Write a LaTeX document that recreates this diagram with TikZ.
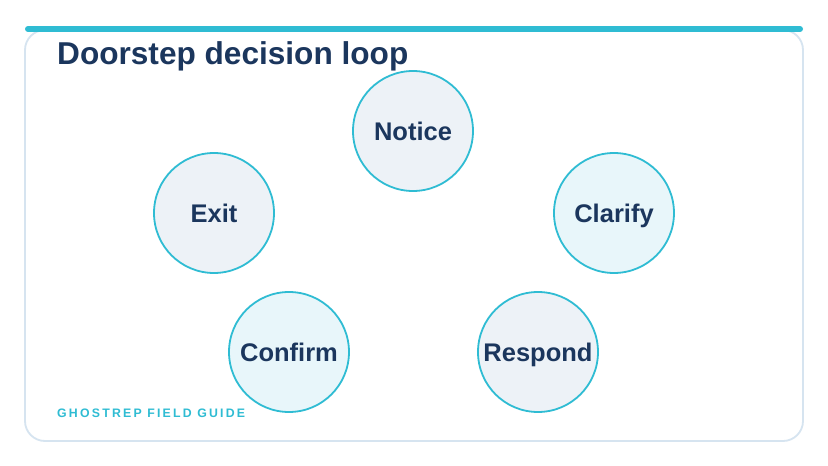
\documentclass[tikz,border=0pt]{standalone}
\usepackage{fontspec}
\setmainfont{Liberation Sans}
\definecolor{navy}{HTML}{1B365D}
\definecolor{teal}{HTML}{2FBCD3}
\definecolor{cardline}{HTML}{D6E4F0}
\definecolor{fillgray}{HTML}{EDF2F7}
\definecolor{fillcyan}{HTML}{E8F6FA}
\tikzset{
  stage/.style={circle, draw=teal, line width=1.8pt, minimum size=120pt, inner sep=0pt,
    font=\fontsize{25.5}{28}\selectfont\bfseries, text=navy, text depth=0pt},
  stagegray/.style={stage, fill=fillgray},
  stagecyan/.style={stage, fill=fillcyan},
}
\begin{document}
\begin{tikzpicture}[x=1pt,y=-1pt]
\useasboundingbox (0,0) rectangle (828,466);
\fill[white] (0,0) rectangle (828,466);
\draw[cardline, line width=1.8pt, rounded corners=20pt] (25,30) rectangle (803,441);
\draw[teal, line width=6pt, line cap=round] (28,29) -- (800,29);
\node[anchor=base west, text=navy, font=\fontsize{31.6}{34}\selectfont\bfseries, inner sep=0pt] (title) at (57,64) {Doorstep decision loop};
\node[stagegray] (notice) at (413,131) {Notice};
\node[stagecyan] (clarify) at (614,213) {Clarify};
\node[stagegray] (respond) at (538,352) {Respond};
\node[stagecyan] (confirm) at (289,352) {Confirm};
\node[stagegray] (exit) at (214,213) {Exit};
\node[anchor=base west, text=teal, inner sep=0pt, font=\fontsize{12.3}{14}\selectfont\bfseries\addfontfeature{LetterSpace=18}] (footer) at (57,417) {GHOSTREP FIELD GUIDE};
\end{tikzpicture}
\end{document}
